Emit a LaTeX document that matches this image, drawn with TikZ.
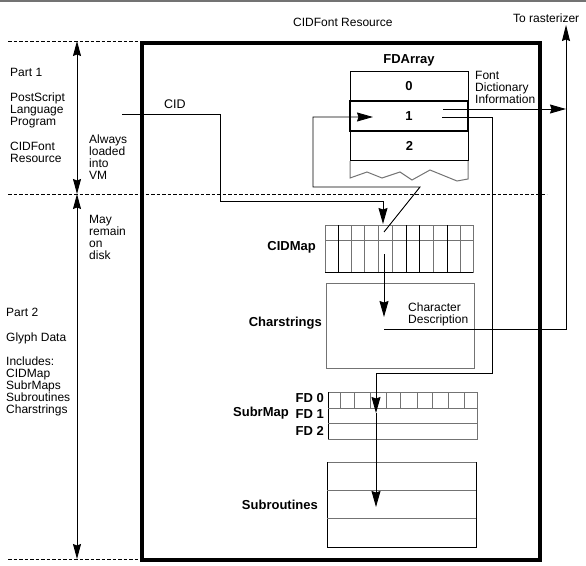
\documentclass[tikz,border=0pt]{standalone}
\usepackage{fontspec}
\setmainfont{Liberation Sans}
\usetikzlibrary{arrows.meta}
\begin{document}
\begin{tikzpicture}[x=1pt,y=-1pt,
  txt/.style={inner sep=0pt, align=left, anchor=north west, font=\fontsize{12}{12}\selectfont},
  lbl/.style={inner sep=0pt, anchor=east, font=\fontsize{13}{13}\selectfont\bfseries},
  conn/.style={line width=0.9pt},
  arr/.style={conn, -{Stealth[length=16pt,width=9pt,inset=1.5pt]}},
  darr/.style={conn, {Stealth[length=15pt,width=8pt,inset=1.5pt]}-{Stealth[length=15pt,width=8pt,inset=1.5pt]}},
  dashln/.style={dash pattern=on 3.5pt off 2pt, line width=0.8pt},
  gline/.style={draw=black!55, line width=1pt},
  kline/.style={draw=black, line width=1pt},
  fdbox/.style={draw, line width=1pt, minimum width=118pt, minimum height=29pt, inner sep=0pt, font=\fontsize{13}{13}\selectfont\bfseries},
  mainbox/.style={draw, line width=4pt}
]
\useasboundingbox (0,0) rectangle (586,565);
% top frame line
\draw[black!55, line width=1.5pt] (0,0.75) -- (586,0.75);

% dashed separators
\draw[dashln] (8,41) -- (140,41);
\draw[dashln] (8,194) -- (547,194);
\draw[dashln] (8,559) -- (140,559);

% main box
\node[mainbox, inner sep=0pt, minimum width=398pt, minimum height=517pt, anchor=north west] (main) at (140,41) {};

% left arrows
\coordinate (a1) at (77,41);
\coordinate (a2) at (77,194);
\coordinate (a3) at (77,559);
\draw[darr] (a1) -- (a2);
\draw[darr] (a2) -- (a3);

% left texts
\node[txt] (p1) at (10,68) {Part 1};
\node[txt] (psl) at (10,93) {PostScript\\Language\\Program};
\node[txt] (cfr) at (10,142) {CIDFont\\Resource};
\node[txt] (alw) at (89,135) {Always\\loaded\\into\\VM};
\node[txt] (may) at (89,215) {May\\remain\\on\\disk};
\node[txt] (p2) at (6,308) {Part 2};
\node[txt] (gd) at (6,333) {Glyph Data};
\node[txt] (inc) at (6,357) {Includes:\\CIDMap\\SubrMaps\\Subroutines\\Charstrings};

% top texts
\node[txt] (title) at (293,18) {CIDFont Resource};
\node[txt] (rast) at (513,14) {To rasterizer};

% FDArray
\node[inner sep=0pt, font=\fontsize{13}{13}\selectfont\bfseries] (fdal) at (409,60) {FDArray};
\node[fdbox] (fd0) at (409,86) {0};
\node[fdbox, line width=2pt, minimum height=30pt] (fd1) at (409,116) {1};
\node[fdbox] (fd2) at (409.5,146) {2};
\draw[gline] (350,161) -- (350,178) -- (367,172) -- (382,178) -- (400,172) -- (412,180) -- (430,170) -- (457,181) -- (468,179) -- (468,161);
\node[txt] (fdi) at (475,71) {Font\\Dictionary\\Information};

% CIDMap
\node[lbl] (cidmapl) at (316,247) {CIDMap};
\draw[gline] (325,225) rectangle (473,272);
\draw[kline] (325,272) -- (473,272);
\draw[gline] (325,240) -- (473,240);
\foreach \x in {351,364,378,392,433,460} \draw[gline] (\x,225) -- (\x,272);
\foreach \x in {338,406,419,447} \draw[kline] (\x,225) -- (\x,272);

% Charstrings
\node[lbl] (csl) at (322,323) {Charstrings};
\draw[gline] (326,283) rectangle (474,368);
\node[txt] (cdesc) at (408,303) {Character\\Description};

% SubrMap
\node[lbl] (smap) at (289,413) {SubrMap};
\node[lbl] (fd0l) at (324,398) {FD 0};
\node[lbl] (fd1l) at (324,414) {FD 1};
\node[lbl] (fd2l) at (324,431) {FD 2};
\draw[gline] (328,392) rectangle (477,439);
\draw[kline] (328,392) -- (328,439);
\draw[gline] (328,408) -- (477,408);
\draw[gline] (328,423) -- (477,423);
\foreach \x in {340,354,370,386,400,417,432,448,464} \draw[gline] (\x,392) -- (\x,408);

% Subroutines
\node[lbl] (subl) at (318,505) {Subroutines};
\draw[gline] (327,462) rectangle (476,547);
\draw[kline] (327,462) -- (327,547) -- (476,547) -- (476,462);
\draw[gline] (327,490) -- (476,490);
\draw[gline] (327,518) -- (476,518);

% CID connector
\node[txt, font=\fontsize{12.5}{12.5}\selectfont] (cidl) at (164,100) {CID};
\coordinate (cidin) at (122,114);
\coordinate (cidb1) at (220,114);
\coordinate (cidb2) at (220,201);
\coordinate (cidb3) at (383,201);
\coordinate (cidtip) at (383,224);
\draw[arr] (cidin) -- (cidb1) -- (cidb2) -- (cidb3) -- (cidtip);

% CIDMap cell to FD 1
\coordinate (cell) at (384,232);
\coordinate (d1) at (420,187);
\coordinate (d2) at (313,187);
\coordinate (d3) at (313,117);
\coordinate (fd1in) at (373,117);
\draw[arr] (cell) -- (d1) -- (d2) -- (d3) -- (fd1in);

% FD 1 to rasterizer
\coordinate (fd1o1) at (443,109);
\coordinate (rline1) at (566,109);
\draw[arr] (fd1o1) -- (rline1);

% FD 1 to SubrMap / Subroutines
\coordinate (fd1o2) at (442,117);
\coordinate (e1) at (492,117);
\coordinate (e2) at (492,373);
\coordinate (e3) at (376,373);
\coordinate (smtip) at (376,413);
\coordinate (subtip) at (376,507);
\draw[arr] (fd1o2) -- (e1) -- (e2) -- (e3) -- (smtip);
\draw[arr] (smtip) -- (subtip);

% CIDMap to Charstrings
\coordinate (cell2) at (384,254);
\coordinate (cstip) at (384,317);
\draw[arr] (cell2) -- (cstip);

% Charstrings to rasterizer
\coordinate (csout) at (384,329);
\coordinate (r1) at (566,329);
\coordinate (rtip) at (566,25);
\draw[conn, -{Stealth[length=16pt,width=8pt,inset=1.5pt]}] (csout) -- (r1) -- (rtip);
\end{tikzpicture}
\end{document}
